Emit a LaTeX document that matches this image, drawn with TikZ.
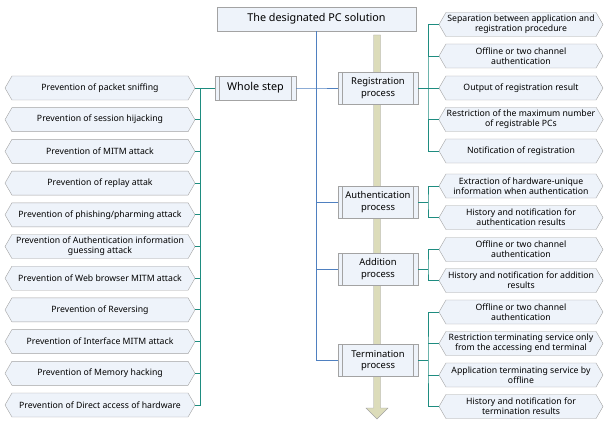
\documentclass[tikz,border=0pt]{standalone}
\usepackage{fontspec}
\setmainfont{Noto Sans}
\usetikzlibrary{arrows.meta, shapes.symbols}

\definecolor{boxfill}{HTML}{EEF3FA}
\definecolor{boxline}{HTML}{A3A3A3}
\definecolor{busblue}{HTML}{4F80C0}
\definecolor{busteal}{HTML}{1E8C80}
\definecolor{flowfill}{HTML}{DCDCBA}

\begin{document}
\begin{tikzpicture}[x=1pt, y=-1pt,
	every node/.style={font=\fontsize{8.7}{10.3}\selectfont, align=center, inner sep=1pt},
	hexcase/.style={signal, signal to=east and west, signal pointer angle=120, draw=boxline, fill=boxfill, minimum height=24pt},
	lcase/.style={hexcase, minimum width=190pt},
	rcase/.style={hexcase, minimum width=164pt},
	stepbox/.style={rectangle, draw=boxline, fill=boxfill, minimum width=80pt, minimum height=32pt, font=\fontsize{9.4}{11.5}\selectfont,
		path picture={\draw[boxline] ([xshift=4.5pt]path picture bounding box.north west) -- ([xshift=4.5pt]path picture bounding box.south west);
			\draw[boxline] ([xshift=-4.5pt]path picture bounding box.north east) -- ([xshift=-4.5pt]path picture bounding box.south east);}},
	blueline/.style={busblue, line width=0.9pt},
	tealline/.style={busteal, line width=0.9pt}]
	
	\useasboundingbox (0,0) rectangle (604,422);
	
	% Flow arrow behind the processes
	\filldraw[fill=flowfill, draw=boxline] (373.5,35) -- (380.5,35) -- (380.5,408) -- (388,408) -- (377,419) -- (366,408) -- (373.5,408) -- cycle;
	
	% Title
	\node[draw=boxline, fill=boxfill, minimum width=199pt, minimum height=24pt, font=\fontsize{10.8}{12}\selectfont] (title) at (316.5,19) {The designated PC solution};
	
	% Steps
	\node[stepbox, minimum width=81pt, minimum height=24pt, font=\fontsize{10.8}{12}\selectfont] (whole) at (255.5,88) {Whole step};
	\node[stepbox] (reg) at (378,88) {Registration\\process};
	\node[stepbox] (auth) at (378,202) {Authentication\\process};
	\node[stepbox] (add) at (378,269) {Addition\\process};
	\node[stepbox] (term) at (378,360.5) {Termination\\process};
	
	% Whole step cases
	\node[lcase] (w1) at (100,88) {Prevention of packet sniffing};
	\node[lcase] (w2) at (100,119.7) {Prevention of session hijacking};
	\node[lcase] (w3) at (100,151.4) {Prevention of MITM attack};
	\node[lcase] (w4) at (100,183.1) {Prevention of replay attak};
	\node[lcase] (w5) at (100,214.8) {Prevention of phishing/pharming attack};
	\node[lcase] (w6) at (100,246.5) {Prevention of Authentication information\\guessing attack};
	\node[lcase] (w7) at (100,278.2) {Prevention of Web browser MITM attack};
	\node[lcase] (w8) at (100,309.9) {Prevention of Reversing};
	\node[lcase] (w9) at (100,341.6) {Prevention of Interface MITM attack};
	\node[lcase] (w10) at (100,373.3) {Prevention of Memory hacking};
	\node[lcase] (w11) at (100,405) {Prevention of Direct access of hardware};
	
	% Registration cases
	\node[rcase] (r1) at (521,24.5) {Separation between application and\\registration procedure};
	\node[rcase] (r2) at (521,56) {Offline or two channel\\authentication};
	\node[rcase] (r3) at (521,88) {Output of registration result};
	\node[rcase] (r4) at (521,119.5) {Restriction of the maximum number\\of registrable PCs};
	\node[rcase] (r5) at (521,151) {Notification of registration};
	
	% Authentication cases
	\node[rcase] (a1) at (521,186) {Extraction of hardware-unique\\information when authentication};
	\node[rcase] (a2) at (521,217.5) {History and notification for\\authentication results};
	
	% Addition cases
	\node[rcase] (d1) at (521,249.5) {Offline or two channel\\authentication};
	\node[rcase] (d2) at (521,280.5) {History and notification for addition\\results};
	
	% Termination cases
	\node[rcase] (t1) at (521,312) {Offline or two channel\\authentication};
	\node[rcase] (t2) at (521,343.5) {Restriction terminating service only\\from the accessing end terminal};
	\node[rcase] (t3) at (521,375) {Application terminating service by\\offline};
	\node[rcase] (t4) at (521,406.5) {History and notification for\\termination results};
	
	% Blue trunk
	\coordinate (trunk) at (316.5,88);
	\draw[blueline] (title.south) |- (term.west);
	\draw[blueline] (whole.east) -- (trunk) -- (reg.west);
	\draw[blueline] (auth.west) -- (auth.west -| trunk);
	\draw[blueline] (add.west) -- (add.west -| trunk);
	
	% Teal bus of the whole step
	\coordinate (lbus) at (200,88);
	\draw[tealline] (whole.west) -- (lbus) -- (lbus |- w11.east) -- (w11.east);
	\draw[tealline] (w1.east) -- (lbus);
	\draw[tealline] (w2.east) -- (w2.east -| lbus);
	\draw[tealline] (w3.east) -- (w3.east -| lbus);
	\draw[tealline] (w4.east) -- (w4.east -| lbus);
	\draw[tealline] (w5.east) -- (w5.east -| lbus);
	\draw[tealline] (w6.east) -- (w6.east -| lbus);
	\draw[tealline] (w7.east) -- (w7.east -| lbus);
	\draw[tealline] (w8.east) -- (w8.east -| lbus);
	\draw[tealline] (w9.east) -- (w9.east -| lbus);
	\draw[tealline] (w10.east) -- (w10.east -| lbus);
	
	% Teal brackets of the processes
	\coordinate (rbus) at (428,88);
	\draw[tealline] (r1.west) -| (rbus) |- (r5.west);
	\draw[tealline] (reg.east) -- (rbus);
	\draw[tealline] (r2.west) -- (r2.west -| rbus);
	\draw[tealline] (r3.west) -- (rbus);
	\draw[tealline] (r4.west) -- (r4.west -| rbus);
	\draw[tealline] (a1.west) -| (auth.east -| rbus) |- (a2.west);
	\draw[tealline] (auth.east) -- (auth.east -| rbus);
	\draw[tealline] (d1.west) -| (add.east -| rbus) |- (d2.west);
	\draw[tealline] (add.east) -- (add.east -| rbus);
	\draw[tealline] (t1.west) -| (term.east -| rbus) |- (t4.west);
	\draw[tealline] (term.east) -- (term.east -| rbus);
	\draw[tealline] (t2.west) -- (t2.west -| rbus);
	\draw[tealline] (t3.west) -- (t3.west -| rbus);
	
\end{tikzpicture}
\end{document}
